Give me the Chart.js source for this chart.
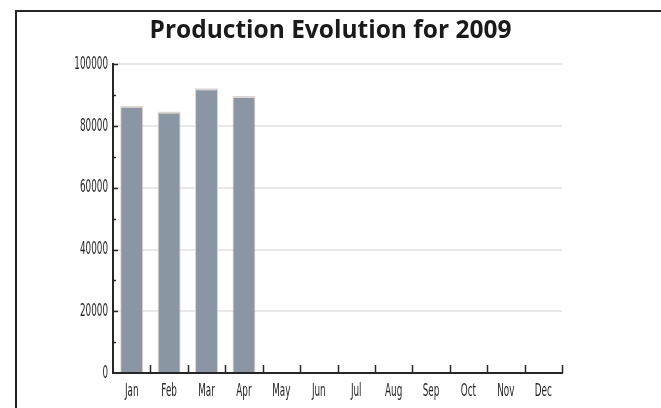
<!DOCTYPE html>
<html>
<head>
<meta charset="utf-8">
<script src="https://cdn.jsdelivr.net/npm/chart.js@4.4.1/dist/chart.umd.min.js"></script>
<style>
  html, body { margin: 0; padding: 0; background: #fff; width: 661px; height: 408px; overflow: hidden; }
  #frame { position: absolute; left: 15px; top: 10px; width: 700px; height: 450px;
           border-left: 2px solid #262626; border-top: 2px solid #262626; box-sizing: border-box; }
  #c { position: absolute; left: 0; top: 0; }
</style>
</head>
<body>
<div id="frame"></div>
<canvas id="c" width="661" height="408"></canvas>
<script>
const categories = ["Jan", "Feb", "Mar", "Apr", "May", "Jun", "Jul", "Aug", "Sep", "Oct", "Nov", "Dec"];
const production = [86600, 84700, 92300, 89800, null, null, null, null, null, null, null, null];
const yMax = 100000;
const yMajorStep = 20000;
const yMinorStep = 10000;
const titleText = "Production Evolution for 2009";

const tickFont = { family: "'DejaVu Sans Condensed', 'DejaVu Sans', sans-serif", size: 17.5 };
const labelSqueeze = 0.56;

// Draw tick labels horizontally condensed around their own anchor point.
function condenseLabels(scale, sx) {
  if (!scale || scale._condensed) return;
  scale._condensed = true;
  const orig = scale.drawLabels;
  scale.drawLabels = function (area) {
    const ctx = this.ctx;
    const origFill = ctx.fillText;
    ctx.fillText = function (text, x, y, maxWidth) {
      this.save();
      this.translate(x, y);
      this.scale(sx, 1);
      if (maxWidth === undefined) origFill.call(this, text, 0, 0);
      else origFill.call(this, text, 0, 0, maxWidth / sx);
      this.restore();
    };
    try { orig.call(this, area); } finally { delete ctx.fillText; }
  };
}

const innerTicks = {
  id: 'innerTicks',
  beforeDraw(chart) {
    condenseLabels(chart.scales.x, labelSqueeze);
    condenseLabels(chart.scales.y, labelSqueeze);
  },
  afterDraw(chart) {
    const ctx = chart.ctx;
    const x = chart.scales.x, y = chart.scales.y;
    ctx.save();
    ctx.strokeStyle = '#262626';
    ctx.lineWidth = 1.5;
    for (let v = yMinorStep; v <= yMax; v += yMinorStep) {
      const py = Math.round(y.getPixelForValue(v)) + 0.5;
      const len = (v % yMajorStep === 0) ? 5 : 3;
      ctx.beginPath();
      ctx.moveTo(y.right, py);
      ctx.lineTo(y.right + len, py);
      ctx.stroke();
    }
    const n = categories.length;
    const w = (x.right - x.left) / n;
    for (let i = 1; i <= n; i++) {
      const px = Math.round(x.left + i * w) + 0.5;
      ctx.beginPath();
      ctx.moveTo(px, x.top);
      ctx.lineTo(px, x.top - 8);
      ctx.stroke();
    }
    ctx.restore();
  }
};

new Chart(document.getElementById('c'), {
  type: 'bar',
  data: {
    labels: categories,
    datasets: [{
      data: production,
      backgroundColor: '#8a96a3',
      borderColor: '#ddd5cf',
      borderWidth: { top: 2, left: 1, right: 1, bottom: 0 },
      borderSkipped: 'bottom',
      categoryPercentage: 1,
      barPercentage: 0.615
    }]
  },
  options: {
    responsive: false,
    animation: false,
    events: [],
    layout: { padding: { left: 0, right: 0, top: 0, bottom: 1 } },
    plugins: {
      legend: { display: false },
      tooltip: { enabled: false },
      title: {
        display: true,
        text: titleText,
        color: '#1a1a1a',
        font: { family: "'Open Sans', sans-serif", weight: 'bold', size: 24.5 },
        padding: { top: 16, bottom: 19 }
      }
    },
    scales: {
      x: {
        afterFit(scale) { scale.height = 34; },
        grid: { display: true, drawOnChartArea: false, drawTicks: false },
        border: { display: true, color: '#262626', width: 2 },
        ticks: { color: '#262626', font: tickFont, padding: 8, maxRotation: 0, autoSkip: false }
      },
      y: {
        min: 0,
        max: yMax,
        afterFit(scale) { scale.width = 113; },
        grid: { color: '#e8e8e8', lineWidth: 2, drawTicks: false },
        border: { display: true, color: '#262626', width: 2 },
        ticks: { stepSize: yMajorStep, color: '#262626', font: tickFont, padding: 5,
                 callback: (v) => String(v) }
      },
      spacer: {
        type: 'linear',
        position: 'right',
        display: true,
        afterFit(scale) { scale.width = 99; },
        grid: { display: false, drawTicks: false },
        border: { display: false },
        ticks: { display: false }
      }
    }
  },
  plugins: [innerTicks]
});
</script>
</body>
</html>
